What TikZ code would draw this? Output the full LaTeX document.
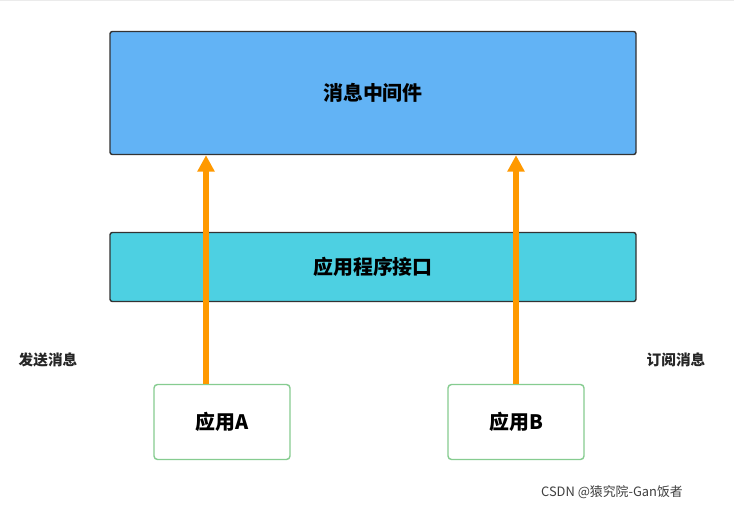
\documentclass[tikz,border=0pt]{standalone}
\usepackage{fontspec}
\setmainfont{Noto Sans CJK SC}
\usetikzlibrary{positioning,arrows.meta}
\definecolor{mqblue}{HTML}{62B3F5}
\definecolor{apicyan}{HTML}{4DD0E2}
\definecolor{appgreen}{HTML}{86CC90}
\definecolor{flow}{HTML}{FF9900}
\begin{document}
\begin{tikzpicture}[x=0.03cm,y=-0.03cm]

% Styles
\tikzstyle{layer} =
	[draw=black!80, line width=1.2pt, rounded corners=2pt, font=\bfseries\fontsize{17}{20}\selectfont]
\tikzstyle{app} =
	[draw=appgreen, line width=1.2pt, rounded corners=3pt, fill=white,
	 minimum width=136*0.03cm, minimum height=75*0.03cm, font=\bfseries\fontsize{17}{20}\selectfont]
\tikzstyle{side text} =
	[font=\bfseries\fontsize{12.5}{15}\selectfont, text=black!85]
\tikzstyle{flow arrow} =
	[draw=flow, line width=4.5pt, -{Triangle[length=14pt,width=14pt]}]

\useasboundingbox (0,0) rectangle (734,511);
\fill[white] (0,0) rectangle (734,511);
\draw[black!8, line width=0.5pt, step=20*0.03cm] (0,0) grid (734,-475);

% Layers
\node (MQ) at (373,93) [layer, fill=mqblue, minimum width=526*0.03cm, minimum height=123*0.03cm] {消息中间件};
\node (API) at (373,267) [layer, fill=apicyan, minimum width=526*0.03cm, minimum height=69*0.03cm] {应用程序接口};

\node (AppA) at (222,422) [app] {应用A};
\node (AppB) at (516,422) [app] {应用B};

\node (Send) at (48,360) [side text] {发送消息};
\node (Sub) at (676,360) [side text] {订阅消息};

% Flows
\draw[flow arrow] ([xshift=-16*0.03cm]AppA.north) -- ([xshift=-16*0.03cm]AppA.north |- MQ.south);
\draw[flow arrow] (AppB.north) -- (AppB.north |- MQ.south);

\node (Mark) at (612,492) [font=\fontsize{11}{13}\selectfont, text=black!75] {CSDN @猿究院-Gan饭者};

\end{tikzpicture}
\end{document}
